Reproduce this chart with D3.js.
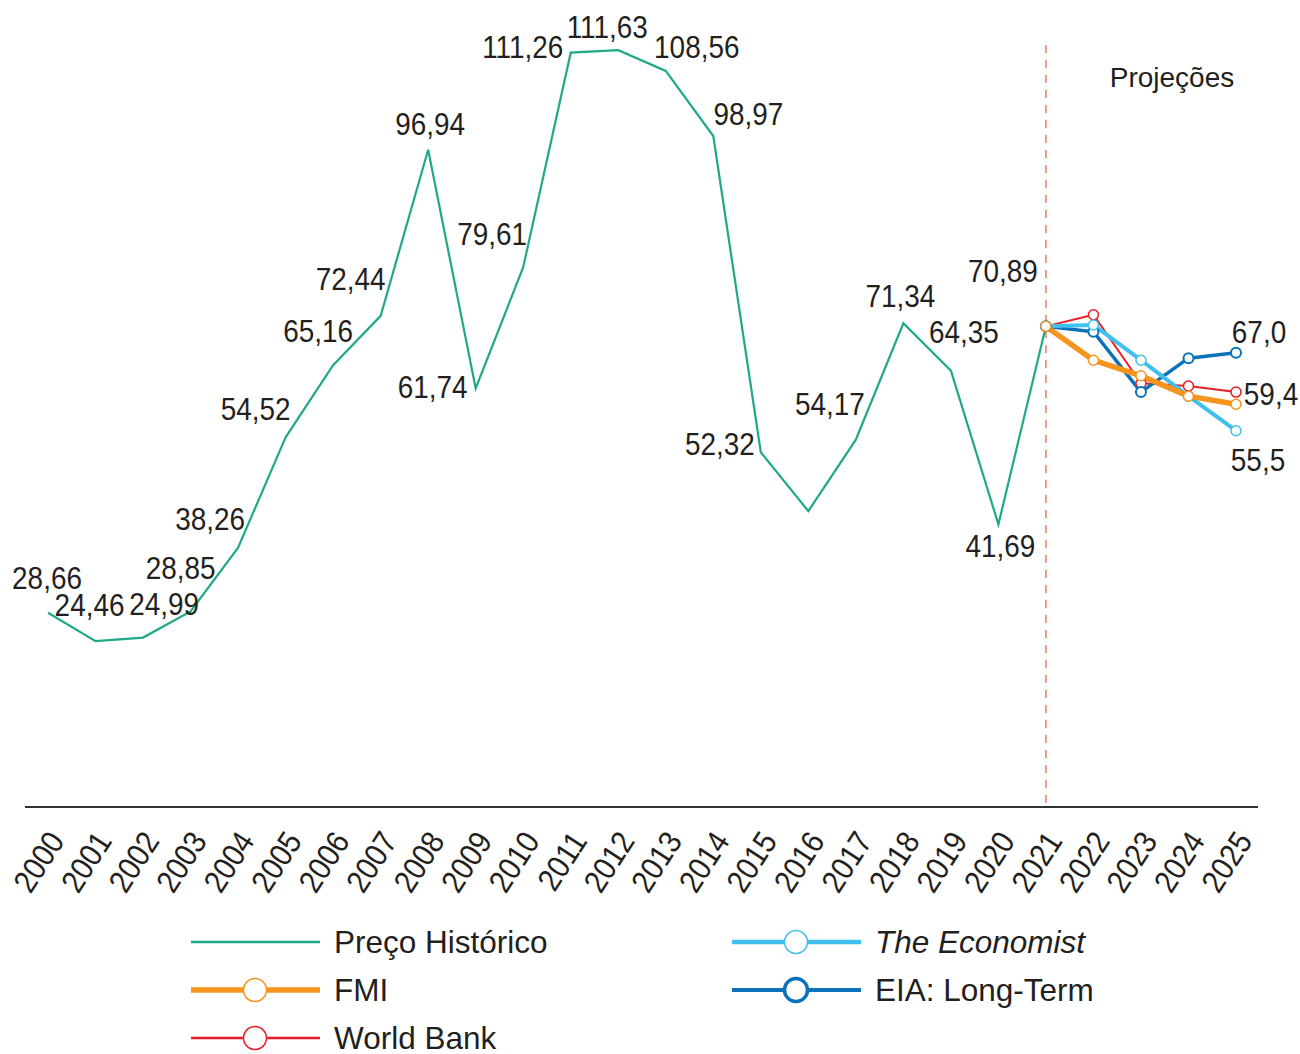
<!DOCTYPE html>
<html>
<head>
<meta charset="utf-8">
<script src="https://cdn.jsdelivr.net/npm/d3@7"></script>
<style>
  body { margin: 0; background: #fff; }
  text { font-family: "Liberation Sans", Arial, sans-serif; fill: #231f20; }
  .num { font-size: 31px; }
</style>
</head>
<body>
<div id="chart"></div>
<script>
// anos e precos (historico)
const years = d3.range(2000, 2026);
const histYears = d3.range(2000, 2022);
const histValues = [28.66, 24.46, 24.99, 28.85, 38.26, 54.52, 65.16, 72.44, 96.94, 61.74,
  79.61, 111.26, 111.63, 108.56, 98.97, 52.32, 43.64, 54.17, 71.34, 64.35, 41.69, 70.89];

// projecoes 2021-2025
const projYears = [2021, 2022, 2023, 2024, 2025];
const fmiValues = [70.89, 65.9, 63.6, 60.6, 59.4];
const worldBankValues = [70.89, 72.6, 62.5, 62.1, 61.2];
const economistValues = [70.89, 71.1, 65.9, 60.6, 55.5];
const eiaValues = [70.89, 70.1, 61.2, 66.2, 67.0];

const endLabels = ["67,0", "59,4", "55,5"];

// label placement (dx, dy from the point), null = no label
const labelOffsets = [[-1,-24],[-6,-25],[21,-23],[-10,-32],[-28,-18],[-30,-17],[-15,-23],[-30,-26],
  [2,-15],[-43,10],[-31,-22],[-48,5],[-11,-12],[31,-13],[35,-11],[-41,3],null,[-26,-25],
  [-3,-16],[13,-28],[2,33],[-43,-44]];

const width = 1300, height = 1054;
const narrow = 0.9; // condensed look of the number labels

const svg = d3.select("#chart").append("svg")
  .attr("width", width)
  .attr("height", height);

const x = d3.scalePoint()
  .domain(years)
  .range([48, 1236]);

const y = d3.scaleLinear()
  .domain([0, 115])
  .range([807, 27.3]);

const fmt = v => d3.format(".2f")(v).replace(".", ",");

// eixo x
const xAxis = d3.axisBottom(x).tickSize(0).tickPadding(0);
const gx = svg.append("g")
  .attr("transform", "translate(0,807)")
  .call(xAxis);
gx.select(".domain")
  .attr("d", "M25,0H1258")
  .attr("stroke", "#333")
  .attr("stroke-width", 2);
gx.selectAll(".tick text")
  .attr("font-size", 32)
  .attr("font-family", "Liberation Sans, Arial, sans-serif")
  .attr("fill", "#231f20")
  .attr("text-anchor", "end")
  .attr("dy", 0)
  .attr("transform", "translate(17,34) rotate(-57) scale(" + narrow + ",1)");

// linha de projecoes
svg.append("line")
  .attr("x1", x(2021)).attr("x2", x(2021))
  .attr("y1", 45).attr("y2", 807)
  .attr("stroke", "#f47a5c")
  .attr("stroke-width", 1.5)
  .attr("stroke-dasharray", "8,7");

svg.append("text")
  .attr("x", 1172).attr("y", 87)
  .attr("text-anchor", "middle")
  .attr("font-size", 28)
  .text("Projeções");

const line = d3.line()
  .x(d => x(d[0]))
  .y(d => y(d[1]));

svg.append("path")
  .datum(histYears.map((yr, i) => [yr, histValues[i]]))
  .attr("d", line)
  .attr("fill", "none")
  .attr("stroke", "#1fa987")
  .attr("stroke-width", 2.2);

const series = [
  {name: "World Bank", values: worldBankValues, color: "#ed1c24", w: 2, cw: 1.5},
  {name: "EIA: Long-Term", values: eiaValues, color: "#0a72ba", w: 3.5, cw: 2},
  {name: "The Economist", values: economistValues, color: "#40c0ee", w: 4, cw: 1.5},
  {name: "FMI", values: fmiValues, color: "#f7941d", w: 5.5, cw: 1.5}
];

series.forEach(s => {
  svg.append("path")
    .datum(projYears.map((yr, i) => [yr, s.values[i]]))
    .attr("d", line)
    .attr("fill", "none")
    .attr("stroke", s.color)
    .attr("stroke-width", s.w)
    .attr("stroke-linejoin", "round");
});
series.forEach(s => {
  svg.selectAll(null)
    .data(projYears.map((yr, i) => [yr, s.values[i]]))
    .enter()
    .append("circle")
    .attr("cx", d => x(d[0]))
    .attr("cy", d => y(d[1]))
    .attr("r", 5)
    .attr("fill", "#fff")
    .attr("stroke", s.color)
    .attr("stroke-width", s.cw);
});

// rotulos do historico
svg.selectAll(".lbl")
  .data(histYears.map((yr, i) => ({yr: yr, v: histValues[i], off: labelOffsets[i]})).filter(d => d.off))
  .enter()
  .append("text")
  .attr("class", "num")
  .attr("text-anchor", "middle")
  .attr("transform", d => "translate(" + (x(d.yr) + d.off[0]) + "," + (y(d.v) + d.off[1]) + ") scale(" + narrow + ",1)")
  .text(d => fmt(d.v));

// rotulos finais das projecoes
const endData = [
  {v: eiaValues[4], t: endLabels[0], dx: 23, dy: -10},
  {v: fmiValues[4], t: endLabels[1], dx: 35, dy: 1},
  {v: economistValues[4], t: endLabels[2], dx: 22, dy: 40}
];
svg.selectAll(".endlbl")
  .data(endData)
  .enter()
  .append("text")
  .attr("class", "num")
  .attr("text-anchor", "middle")
  .attr("transform", d => "translate(" + (x(2025) + d.dx) + "," + (y(d.v) + d.dy) + ") scale(" + narrow + ",1)")
  .text(d => d.t);

// legenda
const legendItems = [
  {name: "Preço Histórico", color: "#1fa987", w: 2.5, marker: false, col: 0, row: 0},
  {name: "FMI", color: "#f7941d", w: 5.5, marker: true, cw: 1.5, col: 0, row: 1},
  {name: "World Bank", color: "#ed1c24", w: 2.5, marker: true, cw: 1.5, col: 0, row: 2},
  {name: "The Economist", color: "#40c0ee", w: 4.5, marker: true, cw: 1.5, col: 1, row: 0, italic: true},
  {name: "EIA: Long-Term", color: "#0a72ba", w: 4, marker: true, cw: 3.5, col: 1, row: 1}
];
const legend = svg.append("g");
const lg = legend.selectAll("g")
  .data(legendItems)
  .enter()
  .append("g")
  .attr("transform", d => "translate(" + (d.col ? 732 : 191) + "," + (942 + d.row * 48) + ")");
lg.append("line")
  .attr("x1", 0).attr("x2", 129)
  .attr("stroke", d => d.color)
  .attr("stroke-width", d => d.w);
lg.filter(d => d.marker)
  .append("circle")
  .attr("cx", 64).attr("r", 11.5)
  .attr("fill", "#fff")
  .attr("stroke", d => d.color)
  .attr("stroke-width", d => d.cw);
lg.append("text")
  .attr("x", 143)
  .attr("y", 10.5)
  .attr("font-size", 31.5)
  .attr("font-style", d => d.italic ? "italic" : "normal")
  .text(d => d.name);
</script>
</body>
</html>
